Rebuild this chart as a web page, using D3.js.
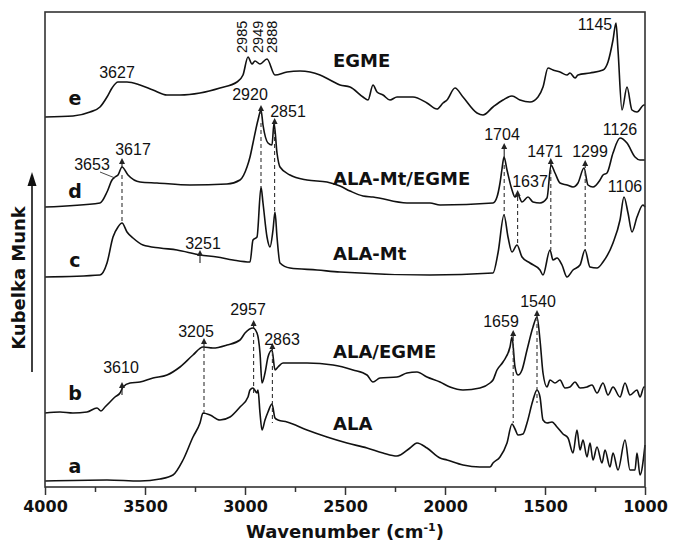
<!DOCTYPE html>
<html>
<head>
<meta charset="utf-8">
<script src="https://cdn.jsdelivr.net/npm/d3@7"></script>
<style>
  body { margin: 0; background: #fff; }
  svg text { font-family: "Liberation Sans", Arial, sans-serif; }
  .bold { font-family: "DejaVu Sans", sans-serif !important; font-weight: bold; }
</style>
</head>
<body>
<div id="chart"></div>
<script>
// spectra: [wavenumber (cm-1), Kubelka-Munk (arb. units, offset stacked)]
var specA = [[4000,6],[3690,7],[3525,6],[3425,8],[3360,12],[3310,27],[3260,50],[3225,64],[3210,74],[3175,72],[3125,67],[3075,70],[3025,80],[2985,90],[2975,97],[2960,99],[2940,94],[2935,97],[2925,74],[2915,57],[2900,67],[2885,75],[2865,83],[2850,69],[2835,67],[2790,65],[2690,57],[2590,50],[2490,44],[2390,39],[2310,34],[2240,31],[2175,39],[2140,44],[2090,39],[2025,29],[1990,27],[1910,22],[1825,20],[1775,20],[1760,24],[1725,30],[1690,44],[1665,63],[1650,58],[1635,52],[1610,53],[1590,64],[1560,87],[1540,97],[1525,90],[1510,67],[1490,64],[1465,65],[1440,60],[1410,53],[1385,49],[1360,34],[1340,57],[1325,37],[1310,47],[1290,30],[1275,44],[1260,27],[1240,40],[1215,24],[1200,37],[1175,20],[1160,34],[1135,17],[1100,47],[1075,17],[1050,17],[1040,34],[1025,12],[1000,42]]

var specB = [[4000,74],[3925,75],[3860,74],[3790,75],[3740,79],[3720,76],[3700,80],[3675,85],[3650,90],[3625,94],[3610,100],[3575,104],[3525,105],[3460,109],[3390,112],[3325,120],[3260,132],[3210,140],[3160,139],[3090,142],[3025,147],[3000,154],[2960,159],[2940,154],[2925,134],[2915,104],[2900,114],[2885,130],[2865,137],[2850,117],[2835,120],[2810,124],[2690,124],[2560,122],[2460,117],[2390,112],[2360,105],[2325,109],[2240,110],[2190,114],[2140,115],[2090,110],[2025,105],[1975,100],[1910,97],[1825,99],[1775,104],[1760,107],[1740,117],[1710,125],[1675,140],[1665,150],[1650,120],[1635,112],[1615,117],[1590,137],[1560,160],[1540,170],[1525,147],[1510,114],[1490,100],[1475,107],[1450,104],[1425,107],[1400,99],[1375,100],[1350,105],[1325,99],[1290,100],[1265,102],[1240,94],[1210,104],[1185,92],[1160,100],[1125,90],[1100,104],[1075,92],[1040,97],[1025,90],[1005,100],[1000,100]]

var specC = [[4000,210],[3725,212],[3690,224],[3660,250],[3635,260],[3615,264],[3590,255],[3560,249],[3510,242],[3425,239],[3340,237],[3225,232],[3140,230],[3060,227],[2975,225],[2960,247],[2940,250],[2920,300],[2910,284],[2890,250],[2875,240],[2860,257],[2850,275],[2840,250],[2825,224],[2775,219],[2640,217],[2525,215],[2075,212],[1760,214],[1735,234],[1705,272],[1685,250],[1665,235],[1640,242],[1615,230],[1575,224],[1525,217],[1510,212],[1475,237],[1460,227],[1440,229],[1415,222],[1390,210],[1360,217],[1325,222],[1300,237],[1275,220],[1240,219],[1210,225],[1160,244],[1125,267],[1105,290],[1085,274],[1065,255],[1040,270],[1010,282],[1000,280]]

var specD = [[4000,280],[3725,284],[3690,295],[3665,307],[3650,310],[3635,312],[3615,320],[3585,312],[3525,305],[3440,304],[3275,302],[3090,303],[3025,307],[2990,320],[2975,330],[2960,344],[2935,367],[2920,377],[2910,362],[2885,344],[2865,342],[2855,364],[2840,334],[2825,320],[2775,312],[2690,307],[2590,305],[2525,301],[2475,296],[2410,291],[2360,290],[2190,284],[2075,284],[2025,282],[1760,284],[1740,290],[1725,304],[1715,318],[1705,330],[1690,317],[1665,297],[1650,290],[1635,292],[1615,285],[1585,290],[1560,285],[1525,284],[1490,289],[1470,322],[1450,314],[1425,304],[1390,302],[1360,300],[1335,304],[1305,319],[1285,302],[1260,300],[1225,307],[1210,312],[1190,314],[1160,334],[1125,349],[1090,344],[1050,330],[1025,327],[1000,327]]

var specE = [[4000,370],[3860,371],[3775,375],[3725,380],[3690,390],[3665,399],[3635,405],[3590,405],[3525,402],[3460,397],[3390,392],[3325,392],[3225,394],[3125,399],[3040,405],[3010,412],[2985,430],[2965,423],[2950,426],[2925,423],[2890,428],[2850,412],[2790,415],[2725,416],[2675,415],[2625,412],[2575,407],[2525,402],[2475,400],[2410,390],[2385,387],[2360,402],[2340,395],[2310,392],[2275,387],[2240,390],[2160,390],[2090,384],[2040,378],[2010,384],[1990,387],[1950,399],[1910,390],[1840,374],[1810,372],[1760,380],[1710,387],[1665,391],[1625,387],[1575,385],[1535,390],[1510,400],[1485,419],[1460,417],[1425,415],[1390,412],[1375,414],[1350,409],[1335,412],[1275,414],[1210,417],[1185,425],[1160,447],[1145,464],[1135,437],[1115,377],[1090,400],[1065,377],[1040,375],[1005,382],[1000,382]]

var curveLetters = ["a", "b", "c", "d", "e"]
var sampleNames = ["ALA", "ALA/EGME", "ALA-Mt", "ALA-Mt/EGME", "EGME"]
var xTicks = [4000, 3500, 3000, 2500, 2000, 1500, 1000]

// where letters and names sit (wavenumber, value of baseline)
var letterPos = [[3850,14],[3850,87],[3850,220],[3850,289],[3850,382]]
var namePos = [[2560,57],[2560,129],[2560,227],[2560,302],[2560,420]]

// dashed guide lines [wn, top, bottom]
var guides = [[3615,312,264],[2920,364,300],[2852,357,275],[1704,322,272],[1637,290,242],[1471,317,237],[1299,315,237],
              [3205,147,74],[2957,154,94],[2863,135,64],[1659,150,64],[1540,170,84]]
// small up arrows [wn, tip, base]
var arrows = [[3615,329,320],[2920,382,373],[2852,369,362],[1704,344,330],[1637,297,290],[1471,329,321],[1299,327,319],
              [3225,237,224],[3615,105,92],[3205,149,140],[2957,167,159],[2863,144,137],[1659,157,150],[1540,177,170]]
// peak labels [text, wn center, value baseline]
var peakLabels = [["3627",3640,409],["1145",1250,457],["3653",3765,317],["3617",3560,332],["2920",2975,387],["2851",2785,370],
                  ["1704",1715,347],["1471",1500,330],["1299",1275,330],["1126",1125,352],["1637",1575,300],["1106",1100,295],
                  ["3251",3210,238],["3610",3620,114],["3205",3245,150],["2957",2985,172],["2863",2815,142],["1659",1720,160],["1540",1535,180]]
var rotLabels = [["2985",2990],["2949",2910],["2888",2840]]

var W = 673, H = 543
var margin = {left: 45, right: 28, top: 12, bottom: 56}

var svg = d3.select("#chart").append("svg")
    .attr("width", W)
    .attr("height", H)

var x = d3.scaleLinear().domain([4000, 1000]).range([margin.left, W - margin.right])
var y = d3.scaleLinear().domain([0, 475]).range([H - margin.bottom, margin.top])

var line = d3.line()
    .x(function (d) { return x(d[0]) })
    .y(function (d) { return y(d[1]) })
    .curve(d3.curveMonotoneX)

var spectra = [specA, specB, specC, specD, specE]

svg.selectAll("path.spec")
    .data(spectra)
    .enter()
    .append("path")
    .attr("class", "spec")
    .attr("d", line)
    .attr("fill", "none")
    .attr("stroke", "#111")
    .attr("stroke-width", 1.6)
    .attr("stroke-linejoin", "round")

// guides
svg.selectAll("line.guide")
    .data(guides)
    .enter()
    .append("line")
    .attr("x1", function (d) { return x(d[0]) })
    .attr("x2", function (d) { return x(d[0]) })
    .attr("y1", function (d) { return y(d[1]) })
    .attr("y2", function (d) { return y(d[2]) })
    .attr("stroke", "#333")
    .attr("stroke-width", 1.1)
    .attr("stroke-dasharray", "4,3")

// arrows
var arr = svg.selectAll("g.arrow")
    .data(arrows)
    .enter()
    .append("g")
arr.append("line")
    .attr("x1", function (d) { return x(d[0]) })
    .attr("x2", function (d) { return x(d[0]) })
    .attr("y1", function (d) { return y(d[1]) + 4 })
    .attr("y2", function (d) { return y(d[2]) })
    .attr("stroke", "#222")
    .attr("stroke-width", 1.1)
arr.append("path")
    .attr("d", function (d) {
        var px = x(d[0]), py = y(d[1])
        return "M" + px + "," + py + "L" + (px - 3) + "," + (py + 6) + "L" + (px + 3) + "," + (py + 6) + "Z"
    })
    .attr("fill", "#222")

// leader for 3653
svg.append("line")
    .attr("x1", x(3725)).attr("y1", y(315))
    .attr("x2", x(3650)).attr("y2", y(309))
    .attr("stroke", "#333").attr("stroke-width", 0.9)

svg.selectAll("text.peak")
    .data(peakLabels)
    .enter()
    .append("text")
    .attr("x", function (d) { return x(d[1]) })
    .attr("y", function (d) { return y(d[2]) })
    .attr("text-anchor", "middle")
    .attr("font-size", 16)
    .attr("fill", "#111")
    .text(function (d) { return d[0] })

svg.selectAll("text.rot")
    .data(rotLabels)
    .enter()
    .append("text")
    .attr("transform", function (d) { return "translate(" + x(d[1]) + "," + y(434) + ") rotate(-90)" })
    .attr("font-size", 14.5)
    .attr("fill", "#111")
    .text(function (d) { return d[0] })

svg.selectAll("text.letter")
    .data(curveLetters)
    .enter()
    .append("text")
    .attr("class", "bold")
    .attr("x", function (d, i) { return x(letterPos[i][0]) })
    .attr("y", function (d, i) { return y(letterPos[i][1]) })
    .attr("text-anchor", "middle")
    .attr("font-size", 19)
    .attr("fill", "#111")
    .text(function (d) { return d })

svg.selectAll("text.name")
    .data(sampleNames)
    .enter()
    .append("text")
    .attr("class", "bold")
    .attr("x", function (d, i) { return x(namePos[i][0]) })
    .attr("y", function (d, i) { return y(namePos[i][1]) })
    .attr("font-size", 18)
    .attr("fill", "#111")
    .text(function (d) { return d })

// frame
svg.append("rect")
    .attr("x", margin.left)
    .attr("y", margin.top)
    .attr("width", W - margin.left - margin.right)
    .attr("height", H - margin.top - margin.bottom)
    .attr("fill", "none")
    .attr("stroke", "#333")
    .attr("stroke-width", 1.6)

var xAxis = svg.append("g")
    .attr("transform", "translate(0," + (H - margin.bottom) + ")")
    .call(d3.axisBottom(x).tickValues(xTicks).tickSize(8).tickPadding(6).tickFormat(d3.format("d")))
xAxis.select(".domain").remove()
xAxis.selectAll("line").attr("stroke", "#333").attr("stroke-width", 1.5)
xAxis.selectAll("text")
    .attr("class", "bold")
    .attr("font-size", 16)
    .attr("fill", "#111")

svg.append("g")
    .attr("transform", "translate(0," + (H - margin.bottom) + ")")
    .call(d3.axisBottom(x).tickValues(d3.range(3750, 1000, -500)).tickSize(5).tickFormat(""))
    .call(function (g) { g.select(".domain").remove() })
    .selectAll("line").attr("stroke", "#333").attr("stroke-width", 1.5)

var xt = svg.append("text")
    .attr("class", "bold")
    .attr("x", (margin.left + W - margin.right) / 2 + 0)
    .attr("y", 538)
    .attr("text-anchor", "middle")
    .attr("font-size", 18)
    .attr("fill", "#111")
xt.append("tspan").text("Wavenumber (cm")
xt.append("tspan").attr("dy", -7).attr("font-size", 11).text("-1")
xt.append("tspan").attr("dy", 7).text(")")

// y label with arrow
svg.append("line")
    .attr("x1", 32).attr("x2", 32)
    .attr("y1", 372).attr("y2", 184)
    .attr("stroke", "#111").attr("stroke-width", 1.6)
svg.append("path")
    .attr("d", "M32,172L27.5,186L36.5,186Z")
    .attr("fill", "#111")
svg.append("text")
    .attr("class", "bold")
    .attr("transform", "translate(25,278) rotate(-90)")
    .attr("text-anchor", "middle")
    .attr("font-size", 18)
    .attr("fill", "#111")
    .text("Kubelka Munk")
</script>
</body>
</html>
